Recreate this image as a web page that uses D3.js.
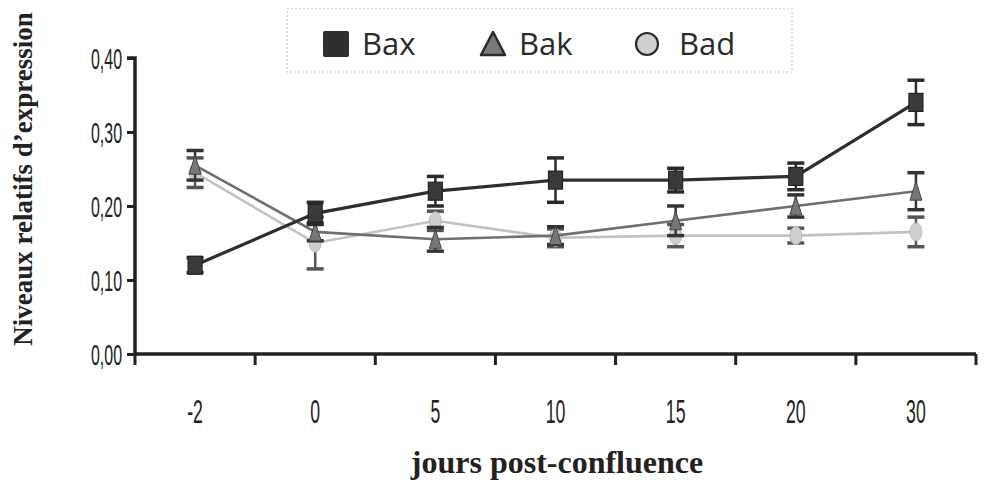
<!DOCTYPE html>
<html>
<head>
<meta charset="utf-8">
<script src="https://cdn.jsdelivr.net/npm/d3@7"></script>
<style>
  html, body { margin: 0; padding: 0; background: #fff; }
  svg { display: block; }
</style>
</head>
<body>
<svg id="chart" width="985" height="483"></svg>
<script>
// Jours post-confluence
const days = ["-2", "0", "5", "10", "15", "20", "30"];

// Niveaux relatifs d'expression (moyenne) et erreur type
const baxValues = [0.120, 0.190, 0.220, 0.235, 0.235, 0.240, 0.340];
const baxErrors = [0.010, 0.015, 0.020, 0.030, 0.016, 0.018, 0.030];
const bakValues = [0.255, 0.165, 0.155, 0.160, 0.180, 0.200, 0.220];
const bakErrors = [0.020, 0.012, 0.016, 0.012, 0.020, 0.015, 0.025];
const badValues = [0.245, 0.150, 0.180, 0.157, 0.160, 0.160, 0.165];
const badErrors = [0.020, 0.035, 0.013, 0.012, 0.015, 0.010, 0.020];

const yTicks = [0, 0.1, 0.2, 0.3, 0.4];
const yTickLabels = ["0,00", "0,10", "0,20", "0,30", "0,40"];

const svg = d3.select("#chart");

const x = d3.scaleBand().domain(days).range([135, 976]).padding(0);
const y = d3.scaleLinear().domain([0, 0.4]).range([354, 58]);

const narrow = "'Liberation Sans', Arial, sans-serif";

// Series definitions
const series = [
  { name: "Bax", values: baxValues, errors: baxErrors, line: "#2e2e2e", fill: "#3a3a3a", stroke: "#222", width: 3.2, shape: "square", capColor: "#2a2a2a" },
  { name: "Bak", values: bakValues, errors: bakErrors, line: "#6f6f6f", fill: "#777", stroke: "#444", width: 2.6, shape: "triangle", capColor: "#333" },
  { name: "Bad", values: badValues, errors: badErrors, line: "#c2c2c2", fill: "#cfcfcf", stroke: "#bbb", width: 2.6, shape: "circle", capColor: "#555" }
];

// Lines
const lineGen = d3.line()
  .x((d, i) => x(days[i]) + x.bandwidth() / 2)
  .y(d => y(d));

// draw order: Bad underneath, then Bak, then Bax on top
[series[2], series[1], series[0]].forEach(s => {
  const g = svg.append("g");
  g.append("path")
    .datum(s.values)
    .attr("fill", "none")
    .attr("stroke", s.line)
    .attr("stroke-width", s.width)
    .attr("d", lineGen);

  // error bars
  s.values.forEach((v, i) => {
    const cx = x(days[i]) + x.bandwidth() / 2;
    const e = s.errors[i];
    g.append("line")
      .attr("x1", cx).attr("x2", cx)
      .attr("y1", y(v + e)).attr("y2", y(v - e))
      .attr("stroke", s.capColor).attr("stroke-width", 2.5);
    [v + e, v - e].forEach(t => {
      g.append("line")
        .attr("x1", cx - 8.5).attr("x2", cx + 8.5)
        .attr("y1", y(t)).attr("y2", y(t))
        .attr("stroke", s.capColor).attr("stroke-width", 3.5);
    });
  });

  // markers
  s.values.forEach((v, i) => {
    const cx = x(days[i]) + x.bandwidth() / 2;
    const cy = y(v);
    if (s.shape === "square") {
      g.append("rect")
        .attr("x", cx - 7).attr("y", cy - 9)
        .attr("width", 14).attr("height", 18)
        .attr("fill", s.fill).attr("stroke", s.stroke).attr("stroke-width", 1.2);
    } else if (s.shape === "triangle") {
      g.append("path")
        .attr("d", `M${cx},${cy - 10}L${cx + 6},${cy + 9}L${cx - 6},${cy + 9}Z`)
        .attr("fill", s.fill).attr("stroke", s.stroke).attr("stroke-width", 1);
    } else {
      g.append("ellipse")
        .attr("cx", cx).attr("cy", cy).attr("rx", 6).attr("ry", 9)
        .attr("fill", s.fill).attr("stroke", s.stroke).attr("stroke-width", 1);
    }
  });
});

// Y axis
const yAxis = svg.append("g").attr("transform", "translate(135,0)")
  .call(d3.axisLeft(y).tickValues(yTicks).tickSize(8)
    .tickFormat((d, i) => yTickLabels[i]));
yAxis.select(".domain").attr("stroke", "#222").attr("stroke-width", 3.5)
  .attr("d", `M-8,${y(0.4)}H0V${y(0)}`);
yAxis.selectAll(".tick line").attr("stroke", "#222").attr("stroke-width", 3);
yAxis.selectAll(".tick text")
  .attr("font-family", narrow).attr("font-size", 29).attr("fill", "#222")
  .attr("x", -13 / 0.55).attr("dy", "0.35em")
  .attr("transform", "scale(0.55,1)");

// X axis: category labels centred in bands, ticks at band edges
const xAxis = svg.append("g").attr("transform", `translate(0,${y(0)})`)
  .call(d3.axisBottom(x).tickSize(0).tickPadding(0));
xAxis.select(".domain").attr("stroke", "#222").attr("stroke-width", 3.5)
  .attr("d", `M135,0H976`);
xAxis.selectAll(".tick text")
  .attr("font-family", narrow).attr("font-size", 34).attr("fill", "#222")
  .attr("y", 0).attr("dy", 0)
  .each(function () {
    const t = d3.select(this.parentNode).attr("transform");
    const cx = +t.match(/translate\(([-\d.]+)/)[1];
    d3.select(this.parentNode).attr("transform", null);
    d3.select(this)
      .attr("x", 0)
      .attr("transform", `translate(${cx},69) scale(0.52,1)`);
  });
const edges = days.map(d => x(d)).concat([x.range()[1]]);
xAxis.selectAll(".edge").data(edges).enter().append("line")
  .attr("class", "edge")
  .attr("x1", d => d).attr("x2", d => d)
  .attr("y1", 0).attr("y2", 11)
  .attr("stroke", "#222").attr("stroke-width", 3);

// Axis titles
svg.append("text")
  .attr("transform", "translate(32,179) rotate(-90)")
  .attr("text-anchor", "middle")
  .attr("font-family", "'Liberation Serif', 'Times New Roman', serif")
  .attr("font-weight", "bold").attr("font-size", 27).attr("fill", "#222")
  .text("Niveaux relatifs d’expression");

svg.append("text")
  .attr("x", 557).attr("y", 473)
  .attr("text-anchor", "middle")
  .attr("font-family", "'Liberation Serif', 'Times New Roman', serif")
  .attr("font-weight", "bold").attr("font-size", 32).attr("fill", "#222")
  .text("jours post-confluence");

// Legend
const legend = svg.append("g");
legend.append("rect")
  .attr("x", 287).attr("y", 9).attr("width", 505).attr("height", 63)
  .attr("fill", "none").attr("stroke", "#c8c8c8").attr("stroke-width", 1.2)
  .attr("stroke-dasharray", "2,2");

const legendItems = [
  { s: series[0], mx: 336, tx: 362 },
  { s: series[1], mx: 493, tx: 519 },
  { s: series[2], mx: 647, tx: 679 }
];
legendItems.forEach(({ s, mx, tx }) => {
  const cy = 44;
  if (s.shape === "square") {
    legend.append("rect").attr("x", mx - 13).attr("y", cy - 13)
      .attr("width", 26).attr("height", 26).attr("rx", 2)
      .attr("fill", "#2e2e2e");
  } else if (s.shape === "triangle") {
    legend.append("path")
      .attr("d", `M${mx},${cy - 12}L${mx + 12},${cy + 11}L${mx - 12},${cy + 11}Z`)
      .attr("fill", "#7a7a7a").attr("stroke", "#2a2a2a").attr("stroke-width", 2.5)
      .attr("stroke-linejoin", "round");
  } else {
    legend.append("circle").attr("cx", mx).attr("cy", cy).attr("r", 11)
      .attr("fill", "#cfcfcf").attr("stroke", "#2a2a2a").attr("stroke-width", 2.2);
  }
  legend.append("text")
    .attr("x", tx).attr("y", cy + 11)
    .attr("font-family", "'Open Sans', 'DejaVu Sans', sans-serif")
    .attr("font-size", 31).attr("fill", "#2a2a2a")
    .text(s.name);
});
</script>
</body>
</html>
